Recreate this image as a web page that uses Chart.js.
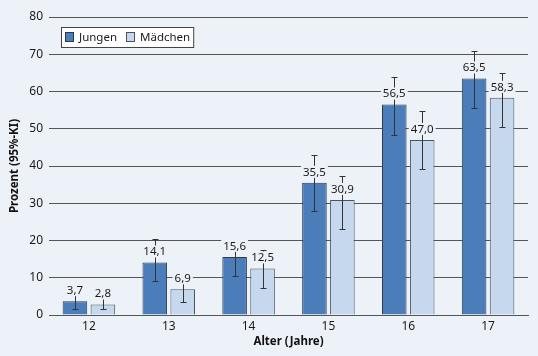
<!DOCTYPE html>
<html>
<head>
<meta charset="utf-8">
<script src="https://cdn.jsdelivr.net/npm/chart.js@4"></script>
<style>
  html, body { margin: 0; padding: 0; background: #edf2f9; }
  canvas { display: block; }
</style>
</head>
<body>
<canvas id="chart" width="538" height="356"></canvas>
<script>
const ages = ['12', '13', '14', '15', '16', '17'];
const jungen = [3.7, 14.1, 15.6, 35.5, 56.5, 63.5];
const maedchen = [2.8, 6.9, 12.5, 30.9, 47.0, 58.3];
// 95%-KI
const jungenLow = [1.5, 9.2, 10.5, 27.8, 48.3, 55.5];
const jungenHigh = [7.8, 20.5, 20.1, 42.9, 63.8, 71.0];
const maedchenLow = [1.7, 3.5, 7.2, 23.2, 39.1, 50.6];
const maedchenHigh = [6.0, 11.2, 17.4, 37.3, 54.7, 65.0];

const bg = '#edf2f9';
const fontFamily = '"Noto Sans", "Liberation Sans", sans-serif';
const ciLow = [jungenLow, maedchenLow];
const ciHigh = [jungenHigh, maedchenHigh];

const errorBarsAndLabels = {
  id: 'errorBarsAndLabels',
  afterDatasetsDraw(chart) {
    const ctx = chart.ctx;
    const yScale = chart.scales.y;
    ctx.save();
    // Fehlerbalken
    ctx.strokeStyle = '#333333';
    ctx.lineWidth = 1;
    chart.data.datasets.forEach((ds, i) => {
      chart.getDatasetMeta(i).data.forEach((bar, j) => {
        const x = Math.round(bar.x) + 0.5;
        const top = Math.round(yScale.getPixelForValue(ciHigh[i][j])) + 0.5;
        const bottom = Math.round(yScale.getPixelForValue(ciLow[i][j])) + 0.5;
        ctx.beginPath();
        ctx.moveTo(x, top);
        ctx.lineTo(x, bottom);
        ctx.moveTo(x - 3, top);
        ctx.lineTo(x + 3, top);
        ctx.moveTo(x - 3, bottom);
        ctx.lineTo(x + 3, bottom);
        ctx.stroke();
      });
    });
    // Werte über den Balken
    ctx.font = '11.5px ' + fontFamily;
    ctx.textAlign = 'center';
    ctx.textBaseline = 'middle';
    chart.data.datasets.forEach((ds, i) => {
      chart.getDatasetMeta(i).data.forEach((bar, j) => {
        const text = ds.data[j].toFixed(1).replace('.', ',');
        const w = ctx.measureText(text).width;
        const y = bar.y - 11;
        ctx.fillStyle = bg;
        ctx.fillRect(bar.x - w / 2 - 2, y - 6, w + 4, 12);
        ctx.fillStyle = '#1a1a1a';
        ctx.fillText(text, bar.x, y + 0.5);
      });
    });
    ctx.restore();
  },
  afterDraw(chart) {
    // Legende im Diagramm
    const ctx = chart.ctx;
    const area = chart.chartArea;
    const x0 = area.left + 12;
    const y0 = area.top + 10;
    ctx.save();
    ctx.font = '11.5px ' + fontFamily;
    ctx.textBaseline = 'middle';
    ctx.textAlign = 'left';
    let widths = chart.data.datasets.map(ds => ctx.measureText(ds.label).width);
    let totalW = 4;
    widths.forEach(w => { totalW += 9 + 5 + w + 9; });
    totalW -= 6;
    ctx.fillStyle = '#ffffff';
    ctx.fillRect(x0 + 0.5, y0 + 0.5, totalW, 20);
    ctx.strokeStyle = '#444444';
    ctx.lineWidth = 1;
    ctx.strokeRect(x0 + 0.5, y0 + 0.5, totalW, 20);
    let cx = x0 + 4;
    chart.data.datasets.forEach((ds, i) => {
      ctx.fillStyle = ds.backgroundColor;
      ctx.fillRect(cx + 0.5, y0 + 5.5, 8, 9);
      ctx.strokeStyle = ds.borderColor;
      ctx.strokeRect(cx + 0.5, y0 + 5.5, 8, 9);
      ctx.fillStyle = '#1a1a1a';
      ctx.fillText(ds.label, cx + 14, y0 + 10.5);
      cx += 9 + 5 + widths[i] + 9;
    });
    ctx.restore();
  }
};

new Chart(document.getElementById('chart'), {
  type: 'bar',
  data: {
    labels: ages,
    datasets: [
      {
        label: 'Jungen',
        data: jungen,
        backgroundColor: '#4a7dba',
        borderColor: '#2f3a48',
        borderWidth: 1,
        categoryPercentage: 0.7,
        barPercentage: 0.88
      },
      {
        label: 'Mädchen',
        data: maedchen,
        backgroundColor: '#c5d8ed',
        borderColor: '#4d535a',
        borderWidth: 1,
        categoryPercentage: 0.7,
        barPercentage: 0.88
      }
    ]
  },
  options: {
    responsive: false,
    animation: false,
    devicePixelRatio: 1,
    layout: { padding: { left: 0, right: 10, top: 17, bottom: 5 } },
    plugins: {
      legend: { display: false },
      tooltip: { enabled: false }
    },
    scales: {
      x: {
        grid: { display: false, drawTicks: false },
        border: { display: true, color: '#555555' },
        ticks: { color: '#1a1a1a', font: { family: fontFamily, size: 12 }, padding: 4 },
        title: {
          display: true,
          text: 'Alter (Jahre)',
          color: '#111111',
          font: { family: fontFamily, size: 11.5, weight: 'bold' },
          padding: { top: 0, bottom: 2 }
        },
        afterFit(axis) { axis.height = 36; }
      },
      y: {
        min: 0,
        max: 80,
        ticks: { stepSize: 10, color: '#1a1a1a', font: { family: fontFamily, size: 12 }, padding: 6 },
        grid: { color: '#555555', lineWidth: 1, drawTicks: false },
        border: { display: false },
        title: {
          display: true,
          text: 'Prozent (95%-KI)',
          color: '#111111',
          font: { family: fontFamily, size: 11.5, weight: 'bold' },
          padding: { top: 8, bottom: 0 }
        },
        afterFit(axis) { axis.width = 49; }
      }
    }
  },
  plugins: [errorBarsAndLabels]
});
</script>
</body>
</html>
